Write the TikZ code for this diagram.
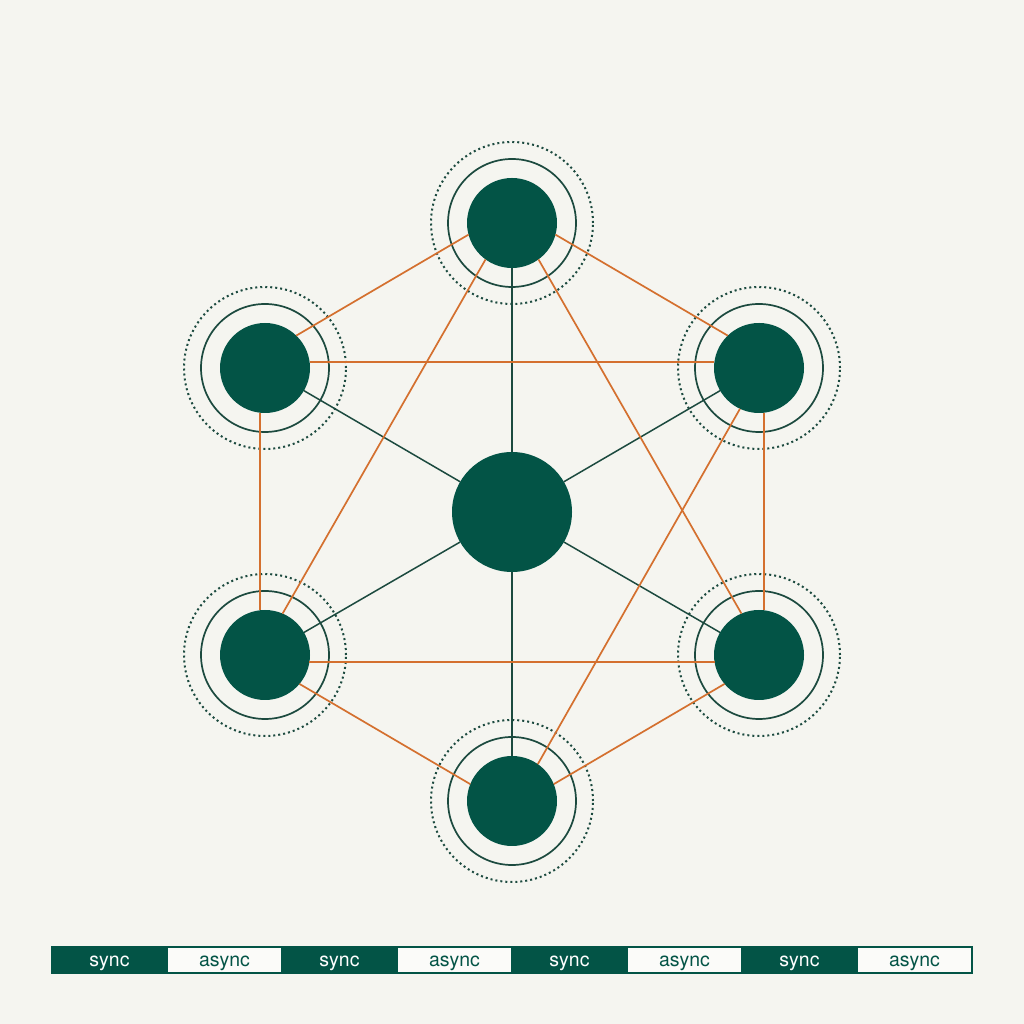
\documentclass[tikz,border=0pt]{standalone}
\usepackage{fontspec}
\setsansfont{TeX Gyre Heros}
\usetikzlibrary{positioning}
\definecolor{paper}{HTML}{F5F5F0}
\definecolor{pine}{HTML}{035446}
\definecolor{pineline}{HTML}{1C4A3F}
\definecolor{rust}{HTML}{D4702F}

\begin{document}
\begin{tikzpicture}[x=1pt,y=1pt]
  \tikzstyle{peer} = [circle, fill=pine, minimum size=90pt, inner sep=0pt, outer sep=0pt]
  \tikzstyle{hubnode} = [circle, fill=pine, minimum size=120pt, inner sep=0pt, outer sep=0pt]
  \tikzstyle{ring} = [draw=pineline, line width=1.7pt]
  \tikzstyle{halo} = [draw=pineline, line width=2pt, dash pattern=on 2pt off 3pt]
  \tikzstyle{link} = [draw=rust, line width=1.7pt]
  \tikzstyle{spoke} = [draw=pineline, line width=1.5pt]
  \tikzstyle{syncbox} = [rectangle, draw=pine, line width=1.5pt, fill=pine, text=white, minimum width=115pt, minimum height=26pt, inner sep=0pt, text height=12.8pt, text depth=0pt, font=\sffamily\fontsize{19.5}{20}\selectfont]
  \tikzstyle{asyncbox} = [syncbox, fill=white!60!paper, text=pine]

  \fill[paper] (0,0) rectangle (1024,1024);
  \useasboundingbox (0,0) rectangle (1024,1024);

  % hub and peers
  \node[hubnode] (hub) at (512,512) {};
  \node[peer] (top) at (512,801) {};
  \node[peer] (upleft) at (265,656) {};
  \node[peer] (upright) at (759,656) {};
  \node[peer] (lowleft) at (265,369) {};
  \node[peer] (lowright) at (759,369) {};
  \node[peer] (bottom) at (512,223) {};

  \foreach \p in {top, upleft, upright, lowleft, lowright, bottom} {
    \draw[ring] (\p) circle (64pt);
    \draw[halo] (\p) circle (81pt);
  }

  % spokes
  \draw[spoke] (hub) -- (top);
  \draw[spoke] (hub) -- (upleft);
  \draw[spoke] (hub) -- (upright);
  \draw[spoke] (hub) -- (lowleft);
  \draw[spoke] (hub) -- (lowright);
  \draw[spoke] (hub) -- (bottom);

  % ring links
  \draw[link] (top.195) -- (upleft.46);
  \draw[link] (top.345) -- (upright.134);
  \draw[link] (upleft.8) -- (upright.172);
  \draw[link] (lowleft.351) -- (lowright.189);
  \draw[link] (upleft.264) -- (lowleft.96);
  \draw[link] (upright.276) -- (lowright.84);
  \draw[link] (lowleft.320) -- (bottom.158);
  \draw[link] (lowright.220) -- (bottom.22);
  % cross links
  \draw[link] (top.234) -- (lowleft.67);
  \draw[link] (top.306) -- (lowright.113);
  \draw[link] (upright.245) -- (bottom.55);

  % mode strip
  \node[syncbox] (cell1) at (109.5,64) {sync};
  \node[asyncbox] (cell2) at (224.5,64) {async};
  \node[syncbox] (cell3) at (339.5,64) {sync};
  \node[asyncbox] (cell4) at (454.5,64) {async};
  \node[syncbox] (cell5) at (569.5,64) {sync};
  \node[asyncbox] (cell6) at (684.5,64) {async};
  \node[syncbox] (cell7) at (799.5,64) {sync};
  \node[asyncbox] (cell8) at (914.5,64) {async};
\end{tikzpicture}
\end{document}
